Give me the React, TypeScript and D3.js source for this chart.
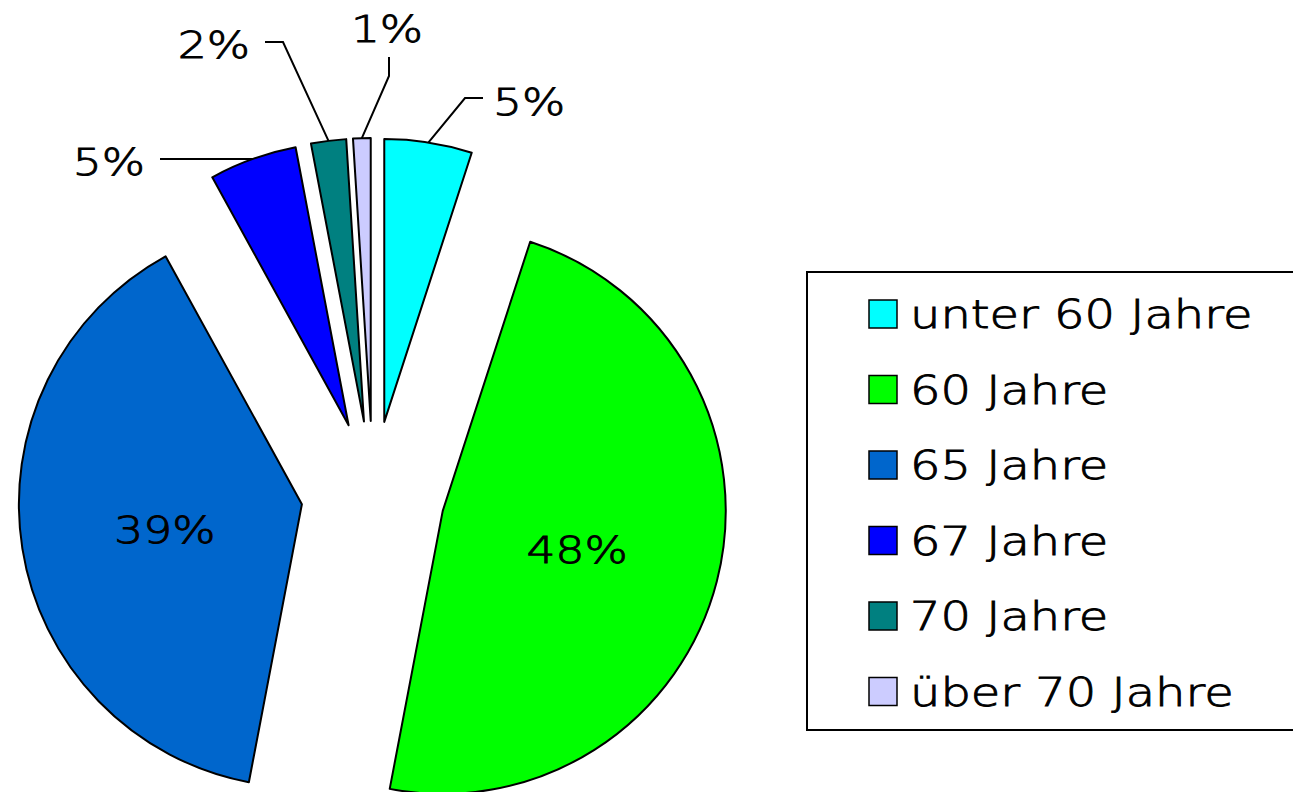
import * as d3 from 'd3';

const categories = ['unter 60 Jahre', '60 Jahre', '65 Jahre', '67 Jahre', '70 Jahre', 'über 70 Jahre'];
const shares = [5, 48, 39, 5, 2, 1];
const labels = ['5%', '48%', '39%', '5%', '2%', '1%'];
const colors = ['#00FFFF', '#00FF00', '#0066CC', '#0000FF', '#008080', '#CCCCFF'];

const W = 1293;
const H = 792;
const cx = 373;
const cy = 493;
const R = 283;
const explode = 72;
const font = '"DejaVu Sans", Verdana, sans-serif';
const sx = 1.23;

// hand-placed outside labels, offsets from the pie centre
const outside: Record<number, { dx: number; dy: number; side: 'right' | 'left' | 'below' }> = {
  0: { dx: 120, dy: -378, side: 'right' },
  3: { dx: -228, dy: -318, side: 'left' },
  4: { dx: -123, dy: -435, side: 'left' },
  5: { dx: 14, dy: -451, side: 'below' },
};

const textStyle = {
  fontFamily: font,
  fontWeight: 200,
  fill: '#000',
  stroke: '#000',
  strokeWidth: 0.9,
} as const;

export default function App() {
  const pie = d3.pie<number>().sort(null).value(d => d);
  const arcs = pie(shares);
  const arc = d3.arc<d3.PieArcDatum<number>>().innerRadius(0).outerRadius(R);

  const mid = (a: d3.PieArcDatum<number>) => (a.startAngle + a.endAngle) / 2;

  return (
    <svg width={W} height={H} style={{ position: 'absolute', left: 0, top: 0, background: '#fff' }}>
      {arcs.map((a, i) => {
        const m = mid(a);
        const ox = cx + Math.sin(m) * explode;
        const oy = cy - Math.cos(m) * explode;
        return (
          <g key={i} transform={`translate(${ox},${oy})`}>
            <path d={arc(a) || ''} fill={colors[i]} stroke="#000" strokeWidth={2} strokeLinejoin="round" />
          </g>
        );
      })}

      {arcs.map((a, i) => {
        const m = mid(a);
        const ox = cx + Math.sin(m) * explode;
        const oy = cy - Math.cos(m) * explode;
        const o = outside[i];
        if (!o) {
          const rr = R * 0.49;
          const lx = ox + Math.sin(m) * rr;
          const ly = oy - Math.cos(m) * rr + 4;
          return (
            <g key={i} transform={`translate(${lx},${ly}) scale(${sx},1)`}>
              <text textAnchor="middle" dy="0.36em" fontSize={37} {...textStyle}>
                {labels[i]}
              </text>
            </g>
          );
        }
        const tx = cx + o.dx;
        const ty = cy + o.dy;
        const start: [number, number] = [ox + Math.sin(m) * R, oy - Math.cos(m) * R];
        let end: [number, number];
        let elbow: [number, number];
        let anchor: string;
        if (o.side === 'right') {
          end = [tx - 10, ty - 17];
          elbow = [tx - 28, ty - 17];
          anchor = 'start';
        } else if (o.side === 'left') {
          end = [tx + 15, ty - 16];
          elbow = [tx + 33, ty - 16];
          anchor = 'end';
        } else {
          end = [tx + 2, ty + 15];
          elbow = [tx + 2, ty + 34];
          anchor = 'middle';
        }
        const line = d3.line()([end, elbow, start]) || '';
        return (
          <g key={i}>
            <path d={line} fill="none" stroke="#000" strokeWidth={2} />
            <g transform={`translate(${tx},${ty}) scale(${sx},1)`}>
              <text textAnchor={anchor} fontSize={37} {...textStyle}>
                {labels[i]}
              </text>
            </g>
          </g>
        );
      })}

      <rect x={807} y={272} width={520} height={458} fill="#fff" stroke="#000" strokeWidth={2} />
      {categories.map((c, i) => {
        const yc = 314 + i * 75.5;
        return (
          <g key={c}>
            <rect x={869} y={yc - 14} width={28} height={28} fill={colors[i]} stroke="#000" strokeWidth={1.5} />
            <g transform={`translate(910,${yc + 14}) scale(${sx},1)`}>
              <text fontSize={39} {...textStyle}>
                {c}
              </text>
            </g>
          </g>
        );
      })}
    </svg>
  );
}
